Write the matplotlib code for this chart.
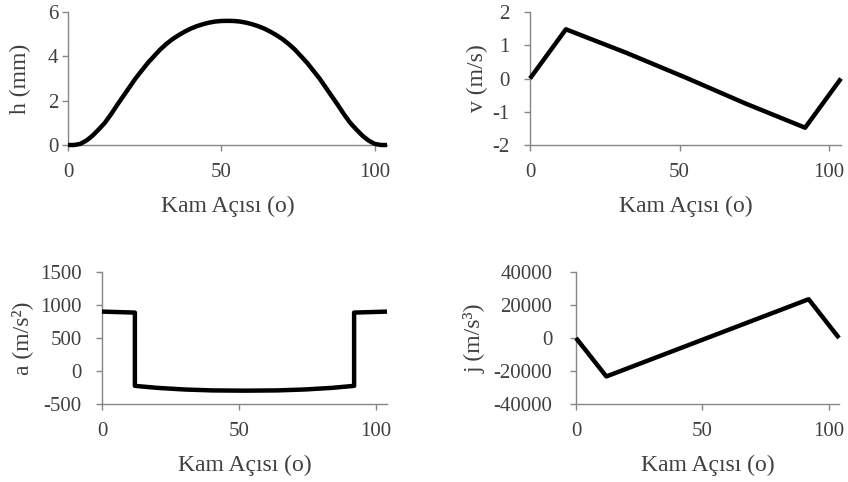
import matplotlib
matplotlib.use("Agg")
import matplotlib.pyplot as plt

plt.rcParams['font.family'] = ['Liberation Serif', 'DejaVu Serif']
plt.rcParams['axes.unicode_minus'] = False

# h (mm)
h_angle = [0, 2, 4, 6, 8, 10, 12, 14, 16, 18, 20, 22, 24, 26, 28, 30, 32, 34, 36, 38, 40,
           42, 44, 46, 48, 50, 52, 54, 56, 58, 60, 62, 64, 66, 68, 70, 72, 74, 76, 78,
           80, 82, 84, 86, 88, 90, 92, 94, 96, 98, 100, 102, 104]
h_vals = [0, 0.0, 0.05, 0.2, 0.42, 0.7, 1.0, 1.38, 1.8, 2.2, 2.6, 3.0, 3.35, 3.7, 4.0,
          4.3, 4.55, 4.77, 4.95, 5.11, 5.25, 5.36, 5.45, 5.52, 5.57, 5.595, 5.6,
          5.595, 5.57, 5.52, 5.45, 5.36, 5.25, 5.11, 4.95, 4.77, 4.55, 4.3, 4.0, 3.7,
          3.35, 3.0, 2.6, 2.2, 1.8, 1.38, 1.0, 0.7, 0.42, 0.2, 0.05, 0.0, 0]

# v (m/s)
v_angle = [0, 12, 32, 52, 72, 92, 104]
v_vals = [0, 1.48, 0.78, 0.03, -0.75, -1.48, 0]

# a (m/s^2)
a_angle = [0, 12, 12, 20, 30, 40, 52, 64, 74, 84, 92, 92, 104]
a_vals = [900, 885, -225, -255, -280, -294, -298, -294, -280, -255, -225, 885, 900]

# j (m/s^3)
j_angle = [0, 12, 92, 104]
j_vals = [0, -23300, 23500, 0]

xlabel = "Kam Açısı (o)"
ylabels = ["h (mm)", "v (m/s)", "a (m/s²)", "j (m/s³)"]
yticks_list = [[0, 2, 4, 6], [-2, -1, 0, 1, 2],
               [-500, 0, 500, 1000, 1500], [-40000, -20000, 0, 20000, 40000]]
xticks = [0, 50, 100]

W, H = 848, 482
fig = plt.figure(figsize=(W / 100, H / 100), dpi=100)

# axes boxes in pixels: left, right, top, bottom
boxes = [(68, 387, 12, 145), (530, 841, 12, 145),
         (102, 387, 272, 404), (576, 839, 272, 404)]
series = [(h_angle, h_vals), (v_angle, v_vals), (a_angle, a_vals), (j_angle, j_vals)]
ypads = [3, 11, 10.5, 13]
ylabel_x = [20, 477, 22, 475]

axis_col = '#868686'
text_col = '#404040'

for (l, r, t, b), (xs, ys), yl, yt, yp, ylx in zip(boxes, series, ylabels, yticks_list,
                                                     ypads, ylabel_x):
    ax = fig.add_axes([l / W, 1 - b / H, (r - l) / W, (b - t) / H])
    ax.plot(xs, ys, color='black', lw=3.2, solid_joinstyle='round',
            solid_capstyle='butt', clip_on=False, zorder=3)
    ax.set_xlim(0, 104)
    ax.set_ylim(yt[0], yt[-1])
    ax.set_xticks(xticks)
    ax.set_yticks(yt)
    for s in ['top', 'right']:
        ax.spines[s].set_visible(False)
    for s in ['left', 'bottom']:
        ax.spines[s].set_color(axis_col)
        ax.spines[s].set_linewidth(1.0)
    ax.tick_params(axis='both', colors=axis_col, labelcolor=text_col,
                   labelsize=15, length=4, width=1.0, direction='out')
    ax.tick_params(axis='x', pad=9)
    ax.tick_params(axis='y', pad=yp)
    ax.set_xlabel(xlabel, fontsize=17, color=text_col, labelpad=10)
    ax.set_ylabel(yl, fontsize=17, color=text_col, va='center')
    ax.yaxis.set_label_coords((ylx - l) / (r - l), 0.5)

fig.savefig('out.png', dpi=100)
